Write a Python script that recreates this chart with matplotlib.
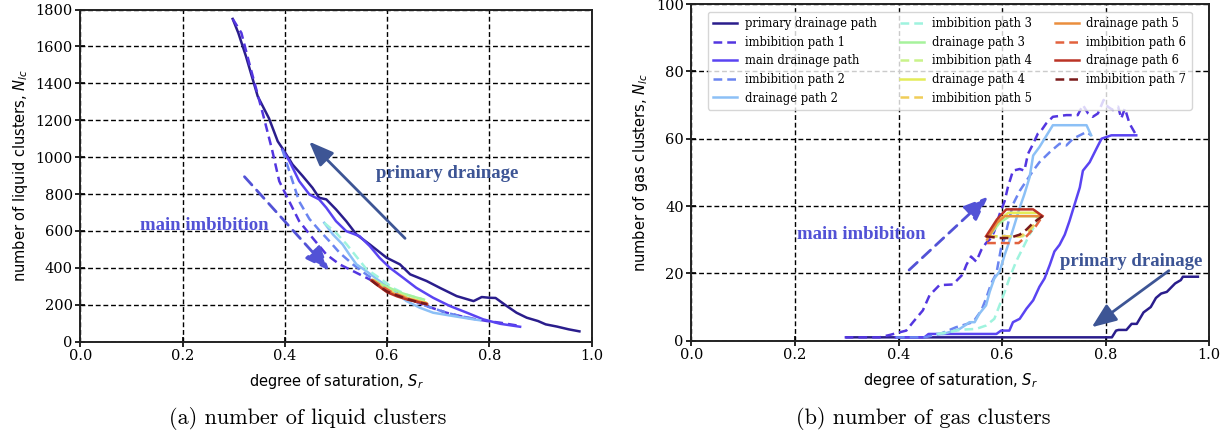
import matplotlib
matplotlib.use("Agg")
import matplotlib.pyplot as plt

# ---------------- data: liquid clusters (left panel) ----------------
pd_S_l = [0.976,0.955,0.932,0.91,0.895,0.873,0.853,0.834,0.812,0.8,0.785,0.769,0.736,0.703,0.677,0.645,0.625,0.599,0.566,0.54,0.52,0.5,0.481,0.467,0.454,0.435,0.415,0.399,0.386,0.369,0.347,0.324,0.309,0.298]
pd_N_l = [56,67,82,94,112,130,157,193,237,238,242,220,247,292,329,365,419,455,527,581,653,717,771,780,834,897,960,1032,1086,1210,1329,1546,1673,1749]

im1_S_l = [0.298,0.315,0.332,0.357,0.375,0.389,0.405,0.428,0.454,0.481,0.507,0.533,0.559,0.585,0.612,0.638,0.677,0.716,0.756,0.795,0.821,0.86]
im1_N_l = [1749,1673,1492,1235,1040,870,780,653,563,473,419,383,347,310,274,238,193,157,130,112,103,85]

md_S_l = [0.86,0.821,0.788,0.756,0.723,0.69,0.657,0.631,0.605,0.585,0.566,0.546,0.52,0.5,0.481,0.467,0.448,0.428,0.409,0.395]
md_N_l = [81,97,121,157,193,238,292,347,401,455,518,572,599,653,726,771,798,870,978,1041]

im2_S_l = [0.395,0.415,0.428,0.448,0.467,0.487,0.507,0.533,0.559,0.598,0.638,0.677,0.716,0.742,0.775]
im2_N_l = [1041,870,760,665,605,545,482,419,365,292,238,193,157,139,122]

dr2_S_l = [0.782,0.769,0.729,0.69,0.664,0.638,0.612,0.585,0.559,0.54,0.526,0.513,0.494,0.477]
dr2_N_l = [116,121,139,157,184,220,274,329,383,419,473,527,581,644]

im3_S_l = [0.477,0.5,0.52,0.546,0.559,0.585,0.612,0.638,0.672]
im3_N_l = [644,590,530,440,395,345,290,255,228]

dr3_S_l = [0.672,0.65,0.63,0.61,0.59,0.575]
dr3_N_l = [228,245,262,285,310,335]
im4_S_l = [0.575,0.59,0.61,0.63,0.65,0.675]
im4_N_l = [330,300,272,252,232,212]
dr4_S_l = [0.675,0.65,0.63,0.61,0.59,0.573]
dr4_N_l = [212,228,245,265,295,332]
im5_S_l = [0.573,0.59,0.61,0.63,0.65,0.677]
im5_N_l = [332,298,268,248,228,208]
dr5_S_l = [0.677,0.65,0.63,0.61,0.59,0.571]
dr5_N_l = [208,225,243,262,292,334]
im6_S_l = [0.571,0.59,0.61,0.63,0.65,0.678]
im6_N_l = [334,300,266,244,224,203]
dr6_S_l = [0.678,0.66,0.64,0.62,0.60,0.585,0.569]
dr6_N_l = [203,215,228,245,268,298,332]
im7_S_l = [0.569,0.585,0.6,0.62,0.64,0.66,0.678]
im7_N_l = [332,298,272,250,230,215,203]

# ---------------- data: gas clusters (right panel) ----------------
pd_S_g = [0.978,0.949,0.945,0.934,0.918,0.907,0.897,0.887,0.873,0.86,0.85,0.84,0.825,0.82,0.812,0.30]
pd_N_g = [19,19,18,17,14.5,14,12.7,10,8.4,5,5,3.2,3.2,3,1,1]

im1_S_g = [0.296,0.363,0.383,0.402,0.415,0.428,0.447,0.46,0.479,0.505,0.524,0.531,0.54,0.55,0.56,0.569,0.579,0.585,0.595,0.605,0.611,0.621,0.634,0.643,0.65,0.66,0.669,0.676,0.685,0.698,0.724,0.746,0.756,0.766,0.775,0.785,0.796,0.804,0.814,0.824,0.83,0.837,0.846,0.859]
im1_N_g = [1,1,1.7,2.5,3,5.5,9,13.5,16.5,16.7,19.7,22.5,25,23.5,27,29,30.5,32.5,37.5,41.5,45.5,50.5,51,50.5,55.5,58.5,61.5,62.5,64.5,66.5,67,67,70,67.5,66.5,67.5,71.5,69.5,68.5,69.5,66,69,64.5,61]

md_S_g = [0.859,0.811,0.792,0.782,0.769,0.756,0.75,0.74,0.73,0.721,0.711,0.701,0.692,0.682,0.672,0.66,0.647,0.634,0.621,0.614,0.598,0.589,0.499,0.486,0.458,0.45,0.395]
md_N_g = [61,61,60,57,53,50.5,45.5,40.5,35.5,31.5,28.5,26.5,22.5,18.5,16,12,9.5,6.5,5.5,3,3,2,2,2,2,1,1]

im2_S_g = [0.395,0.45,0.48,0.511,0.544,0.56,0.569,0.579,0.589,0.598,0.605,0.611,0.621,0.634,0.647,0.66,0.672,0.692,0.711,0.724,0.737,0.75,0.763,0.772]
im2_N_g = [1,1,2,4,5.5,9,12.5,17,20,27.5,30.5,34.5,40.5,44.5,47.5,50.5,53,56,58.5,58,60,61,62,61]

dr2_S_g = [0.772,0.763,0.698,0.688,0.672,0.66,0.653,0.643,0.634,0.624,0.614,0.605,0.595,0.585,0.576,0.569,0.556,0.547,0.537,0.528,0.518,0.508,0.486,0.475]
dr2_N_g = [61,64,64,61.5,57.5,55,48.5,43.5,39.5,34.5,29.5,25.5,20.5,18.5,14.5,10.5,8,5.5,5.5,4.5,3.5,3,2,2]

im3_S_g = [0.475,0.524,0.55,0.569,0.585,0.595,0.605,0.614,0.627,0.64,0.653,0.666,0.672]
im3_N_g = [2,3.3,3.5,4.5,6.5,10.5,14.5,18.5,23.5,27.5,31.5,35,36]

dr3_S_g = [0.672,0.665,0.615,0.595,0.575]
dr3_N_g = [36,37,37,35,31]
im4_S_g = [0.575,0.6,0.64,0.655,0.675]
im4_N_g = [31,31,31,33,37]
dr4_S_g = [0.675,0.668,0.612,0.592,0.573]
dr4_N_g = [37,38,38,35.5,31]
im5_S_g = [0.573,0.6,0.635,0.65,0.665,0.677]
im5_N_g = [31,31,31,32.5,35,37]
dr5_S_g = [0.677,0.67,0.605,0.59,0.571]
dr5_N_g = [37,37,37,35,30]
im6_S_g = [0.571,0.59,0.632,0.647,0.665,0.678]
im6_N_g = [29,29,29,31,34,37]
dr6_S_g = [0.678,0.66,0.608,0.59,0.569]
dr6_N_g = [37,39,39,36,31]
im7_S_g = [0.569,0.595,0.614,0.634,0.647,0.66,0.678]
im7_N_g = [31,30.5,30.5,31.5,33,35,37]

labels = ["primary drainage path", "imbibition path 1", "main drainage path",
          "imbibition path 2", "drainage path 2", "imbibition path 3",
          "drainage path 3", "imbibition path 4", "drainage path 4",
          "imbibition path 5", "drainage path 5", "imbibition path 6",
          "drainage path 6", "imbibition path 7"]
colors = ["#2a1d8c", "#5336e0", "#5a44f2", "#6a84f0", "#8cc0f6", "#9ff3de",
          "#a6f29c", "#c9f38a", "#e4ec58", "#f0cd58", "#ea8e3e", "#e2623e",
          "#bb3325", "#7a1a1a"]
styles = ["-", "--", "-", "--", "-", "--", "-", "--", "-", "--", "-", "--", "-", "--"]

liq = [(pd_S_l, pd_N_l), (im1_S_l, im1_N_l), (md_S_l, md_N_l), (im2_S_l, im2_N_l),
       (dr2_S_l, dr2_N_l), (im3_S_l, im3_N_l), (dr3_S_l, dr3_N_l), (im4_S_l, im4_N_l),
       (dr4_S_l, dr4_N_l), (im5_S_l, im5_N_l), (dr5_S_l, dr5_N_l), (im6_S_l, im6_N_l),
       (dr6_S_l, dr6_N_l), (im7_S_l, im7_N_l)]
gas = [(pd_S_g, pd_N_g), (im1_S_g, im1_N_g), (md_S_g, md_N_g), (im2_S_g, im2_N_g),
       (dr2_S_g, dr2_N_g), (im3_S_g, im3_N_g), (dr3_S_g, dr3_N_g), (im4_S_g, im4_N_g),
       (dr4_S_g, dr4_N_g), (im5_S_g, im5_N_g), (dr5_S_g, dr5_N_g), (im6_S_g, im6_N_g),
       (dr6_S_g, dr6_N_g), (im7_S_g, im7_N_g)]

xticks = [0.0, 0.2, 0.4, 0.6, 0.8, 1.0]
yticks_l = [0, 200, 400, 600, 800, 1000, 1200, 1400, 1600, 1800]
yticks_g = [0, 20, 40, 60, 80, 100]

W, H = 1232, 433
fig = plt.figure(figsize=(W / 100, H / 100), dpi=100)
axL = fig.add_axes([80.3 / W, (H - 341.7) / H, (591.7 - 80.3) / W, (341.7 - 9.5) / H])
axR = fig.add_axes([691.3 / W, (H - 340.7) / H, (1209.3 - 691.3) / W, (340.7 - 4) / H])

tick_font = dict(family="DejaVu Serif", size=10.5)
ann_font = dict(family="Liberation Serif", weight="bold", size=13.5)
PD_COL = "#3d5595"
MI_COL = "#5252d6"


def style_axes(ax, yticks, ylim, ylabel):
    ax.set_xlim(0, 1)
    ax.set_ylim(*ylim)
    ax.set_xticks(xticks)
    ax.set_yticks(yticks)
    ax.set_xticklabels(["%.1f" % v for v in xticks], fontdict=tick_font)
    ax.set_yticklabels([str(v) for v in yticks], fontdict=tick_font)
    ax.tick_params(direction="inout", length=7, width=1.2, colors="black", pad=2)
    ax.grid(True, color="black", linestyle=(0, (3.5, 2)), linewidth=1.0)
    ax.set_axisbelow(True)
    for sp in ax.spines.values():
        sp.set_linewidth(1.4)
        sp.set_color("#222222")
    ax.set_xlabel("degree of saturation, $S_r$", fontsize=10.5, family="DejaVu Sans", labelpad=6)
    ax.set_ylabel(ylabel, fontsize=10.5, family="DejaVu Sans", labelpad=4)


for ax, data in ((axL, liq), (axR, gas)):
    for (s, n), lab, c, ls in zip(data, labels, colors, styles):
        ax.plot(s, n, color=c, linestyle=ls, linewidth=1.8, label=lab,
                dashes=(3.5, 2) if ls == "--" else (None, None))

style_axes(axL, yticks_l, (0, 1800), "number of liquid clusters, $N_{lc}$")
style_axes(axR, yticks_g, (0, 100), "number of gas clusters, $N_{lc}$")


def arrow(ax, start, tip, color, dashed):
    ax.annotate("", xy=tip, xytext=start,
                arrowprops=dict(arrowstyle="-|>,head_length=0.75,head_width=0.3",
                                color=color, lw=2.0, mutation_scale=20,
                                linestyle=(0, (4, 2.5)) if dashed else "-",
                                shrinkA=0, shrinkB=0))


# left panel annotations
arrow(axL, (0.635, 560), (0.4475, 1084), PD_COL, False)
arrow(axL, (0.321, 894), (0.487, 385), MI_COL, True)
axL.text(0.5775, 909, "primary drainage", color=PD_COL, va="center", ha="left", **ann_font)
axL.text(0.117, 632, "main imbibition", color=MI_COL, va="center", ha="left", **ann_font)

# right panel annotations
arrow(axR, (0.4205, 21), (0.573, 42.8), MI_COL, True)
arrow(axR, (0.922, 20.8), (0.773, 4.0), PD_COL, False)
axR.text(0.205, 31.4, "main imbibition", color=MI_COL, va="center", ha="left", **ann_font)
axR.text(0.711, 23.5, "primary drainage", color=PD_COL, va="center", ha="left", **ann_font)

leg = axR.legend(loc="upper left", bbox_to_anchor=(0.032, 0.977), borderaxespad=0,
                 ncol=3, prop=dict(family="DejaVu Serif", size=8.3), handlelength=2.1,
                 handletextpad=0.66, columnspacing=2.0, labelspacing=0.49,
                 framealpha=0.8, borderpad=0.45)

fig.text(307.8 / W, 1 - 418 / H, "(a) number of liquid clusters", ha="center", va="center",
         family="cmr10", size=16)
fig.text(923 / W, 1 - 418 / H, "(b) number of gas clusters", ha="center", va="center",
         family="cmr10", size=16)

fig.savefig("out.png", dpi=100)
